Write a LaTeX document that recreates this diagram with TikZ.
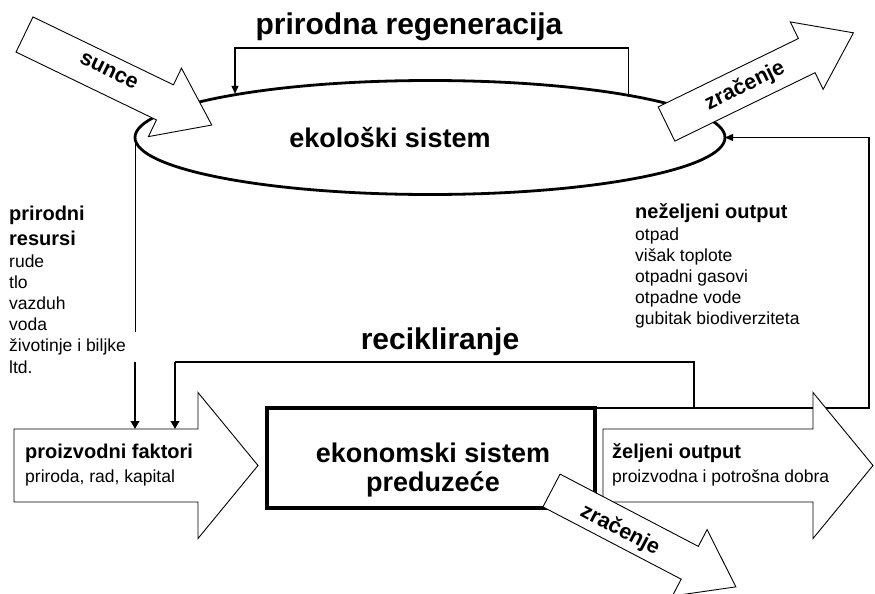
\documentclass[tikz,border=0pt]{standalone}
\usepackage{fontspec}
\setmainfont{Liberation Sans}
\usetikzlibrary{arrows.meta,shapes.geometric}
\begin{document}
\begin{tikzpicture}[x=1pt,y=-1pt,
  outline/.style={draw=black, line width=0.9pt, fill=white, line join=miter},
  flowline/.style={line width=1.4pt},
  feed/.style={line width=1.4pt, -{Triangle[length=8pt,width=7pt]}},
  downfeed/.style={line width=2.8pt, -{Triangle[length=8pt,width=8.5pt]}},
  bigtitle/.style={font=\fontsize{30}{36}\selectfont\bfseries, inner sep=0pt, anchor=base},
  systitle/.style={font=\fontsize{27}{29}\selectfont\bfseries, align=center, inner sep=0pt},
  arrlabel/.style={font=\fontsize{21.5}{26}\selectfont\bfseries, inner sep=0pt},
  % multi-line texts are placed by the baseline of their last line
  headtext/.style={font=\fontsize{20}{25}\selectfont\bfseries, anchor=base west, inner sep=0pt, align=left},
  listtext/.style={font=\fontsize{17.5}{21.2}\selectfont, anchor=base west, inner sep=0pt, align=left},
  % block arrow: length, half shaft width, half head width, head length
  pics/fatarrow/.style n args={4}{code={
    \path[outline] (0,-#2) -- ({#1-#4},-#2) -- ({#1-#4},-#3) -- (#1,0)
      -- ({#1-#4},#3) -- ({#1-#4},#2) -- (0,#2) -- cycle;
  }}
]
\path[fill=white, use as bounding box] (0,0) rectangle (875,594);

% ecological system
\node[ellipse, draw, line width=2.8pt, minimum width=590pt, minimum height=114pt,
      inner sep=0pt, outer sep=0pt] (eko) at (430,137.5) {};

% sun in, radiation out
\pic[rotate=-25.8] at (24.5,34.5) {fatarrow={208}{19.5}{38}{52}};
\pic[rotate=26] at (666.5,124) {fatarrow={208}{19}{37.5}{52}};

% economic system
\node[draw, line width=3.5pt, minimum width=328pt, minimum height=100pt,
      inner sep=0pt, outer sep=0pt] (eco) at (431,458) {};

% corner points of the loops
\coordinate (regL) at (235,48);
\coordinate (fbC) at (869,408);
\coordinate (recA) at (694,408);
\coordinate (recB) at (175,362);
\coordinate (recC) at (175,429);
\coordinate (resA) at (135,332);
\coordinate (resB) at (135,362);
\coordinate (resC) at (135,429);

% natural regeneration
\draw[feed] (eko.12.4) |- (regL) -- (regL |- eko.167.6);
% unwanted output back to the ecosystem
\draw[feed] (eco.north east) -- (fbC) |- (eko.east);
% recycling
\draw[flowline] (recA) |- (recB);
\draw[downfeed] (recB) -- (recC);
% natural resources
\draw[line width=1pt] (eko.west) -- (resA);
\draw[downfeed] (resB) -- (resC);

% production factors in, wanted output out, radiation out
\pic at (14,465.5) {fatarrow={244}{36.5}{73}{60}};
\pic at (603,465.5) {fatarrow={270}{36.5}{73}{60}};
\pic[rotate=-27.6] at (551.5,490.5) {fatarrow={208}{18.5}{37.5}{52}};

% titles
\node[bigtitle] (tReg) at (409,35) {prirodna regeneracija};
\node[bigtitle] (tRec) at (440,349) {recikliranje};
\node[systitle, anchor=base] (tEko) at (390,147) {ekološki sistem};
\node[systitle] (tEco) at (433,470) {ekonomski sistem\\preduzeće};

% arrow labels
\node[arrlabel, rotate=-25.8] (lSun) at (109,71) {sunce};
\node[arrlabel, rotate=26] (lRad1) at (745,86) {zračenje};
\node[arrlabel, rotate=-27.6] (lRad2) at (620,530) {zračenje};

% resources
\node[headtext] (hRes) at (9,245) {prirodni\\resursi};
\node[listtext] (lRes) at (9,373) {rude\\tlo\\vazduh\\voda\\životinje i biljke\\ltd.};

% unwanted output
\node[headtext] (hBad) at (635,218) {neželjeni output};
\node[listtext] (lBad) at (635,324.8) {otpad\\višak toplote\\otpadni gasovi\\otpadne vode\\gubitak biodiverziteta};

% production factors
\node[headtext] (hFac) at (25,458) {proizvodni faktori};
\node[listtext] (lFac) at (25,482) {priroda, rad, kapital};

% wanted output
\node[headtext] (hGood) at (612,458) {željeni output};
\node[listtext] (lGood) at (612,482) {proizvodna i potrošna dobra};
\end{tikzpicture}
\end{document}
